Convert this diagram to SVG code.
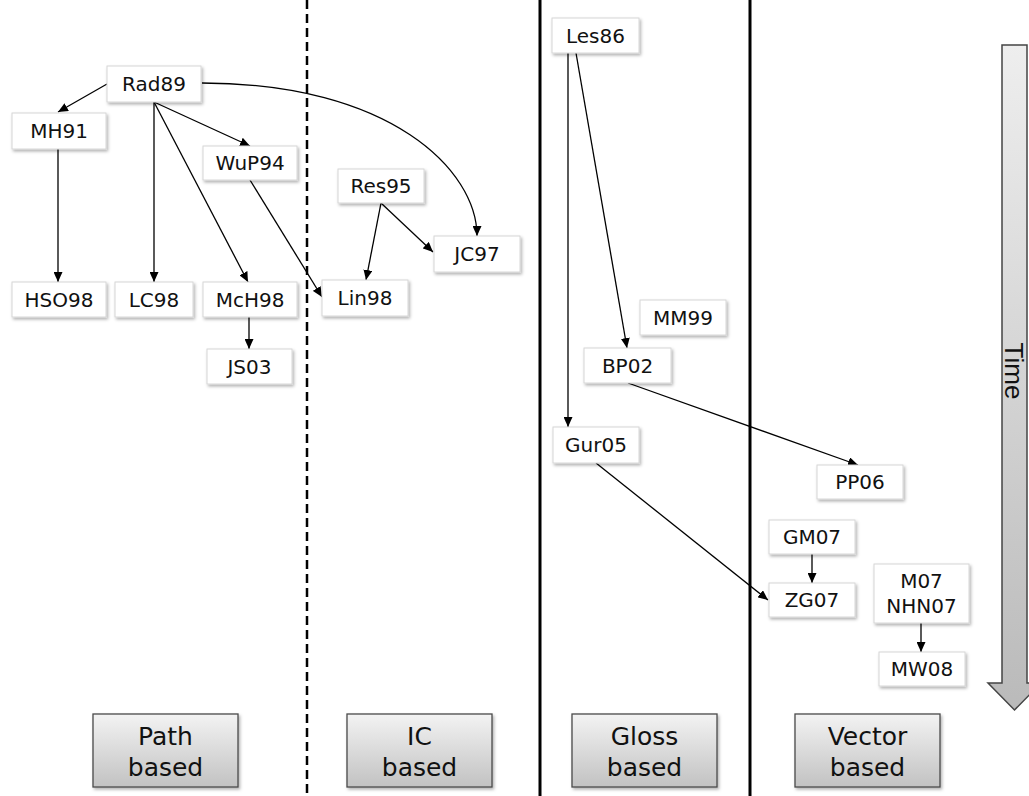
<svg xmlns="http://www.w3.org/2000/svg" width="1029" height="796" viewBox="0 0 1029 796">
  <defs>
    <style>
      .node rect { fill: #ffffff; stroke: #d6d6d6; stroke-width: 1; filter: url(#shadow); }
      .node text { font-family: "DejaVu Sans", Verdana, sans-serif; font-size: 20px; fill: #111; text-anchor: middle; }
      .cat rect { fill: url(#catFill); stroke: #4a4a4a; stroke-width: 1.3; filter: url(#shadow); }
      .cat text { font-family: "DejaVu Sans", Verdana, sans-serif; font-size: 25px; fill: #111; text-anchor: middle; }
      .edges path { fill: none; stroke: #000; stroke-width: 1.3; marker-end: url(#arrow); }
      .divider { stroke: #000; stroke-width: 3; }
      .divider.dashed { stroke-width: 2.5; stroke-dasharray: 9 5; }
    </style>
    <filter id="shadow" x="-20%" y="-20%" width="140%" height="150%">
      <feDropShadow dx="1.5" dy="2" stdDeviation="1.5" flood-color="#000" flood-opacity="0.3"/>
    </filter>
    <linearGradient id="catFill" x1="0" y1="0" x2="0" y2="1">
      <stop offset="0" stop-color="#f3f3f3"/>
      <stop offset="1" stop-color="#c2c2c2"/>
    </linearGradient>
    <linearGradient id="timeFill" x1="0" y1="0" x2="0" y2="1">
      <stop offset="0" stop-color="#eeeeee"/>
      <stop offset="1" stop-color="#bababa"/>
    </linearGradient>
    <marker id="arrow" markerUnits="userSpaceOnUse" markerWidth="11" markerHeight="9" refX="10" refY="4.5" orient="auto">
      <path d="M0,0 L10,4.5 L0,9 Z" fill="#000"/>
    </marker>
  </defs>

  <rect x="0" y="0" width="1029" height="796" fill="#ffffff"/>

  <!-- column dividers -->
  <line class="divider dashed" x1="307" y1="0" x2="307" y2="796"/>
  <line class="divider" x1="540" y1="0" x2="540" y2="796"/>
  <line class="divider" x1="750" y1="0" x2="750" y2="796"/>

  <!-- time axis -->
  <g id="time">
    <path d="M1002,45 L1027,45 L1027,683 L1041,683 L1014.5,710 L988,683 L1002,683 Z" fill="url(#timeFill)" stroke="#444" stroke-width="1.5"/>
    <text transform="translate(1005,371) rotate(90)" text-anchor="middle" font-family="'Liberation Sans', Arial, sans-serif" font-size="26" fill="#111">Time</text>
  </g>

  <!-- connectors -->
  <g id="edges" class="edges">
    <path d="M107,84 L58,112"/>
    <path d="M154,102 L250,146"/>
    <path d="M154,102 L154,282"/>
    <path d="M154,102 L248,282"/>
    <path d="M58,149 L58,282"/>
    <path d="M202,83 C390,83 477,170 477,236"/>
    <path d="M250,180 L322,297"/>
    <path d="M381,203 L366,280"/>
    <path d="M381,203 L433,252"/>
    <path d="M249,317 L249,349"/>
    <path d="M568,53 L568,427"/>
    <path d="M576,53 L627,348"/>
    <path d="M628,383 L858,465"/>
    <path d="M596,463 L768,600"/>
    <path d="M812,554 L812,583"/>
    <path d="M921,623 L921,652"/>
  </g>

  <!-- path based -->
  <g id="Rad89" class="node"><rect x="107" y="66" width="94" height="36"/><text x="154" y="91">Rad89</text></g>
  <g id="MH91" class="node"><rect x="12" y="113" width="94" height="36"/><text x="59" y="138">MH91</text></g>
  <g id="WuP94" class="node"><rect x="203" y="146" width="94" height="34"/><text x="250" y="170">WuP94</text></g>
  <g id="HSO98" class="node"><rect x="12" y="282" width="94" height="35"/><text x="59" y="306.5">HSO98</text></g>
  <g id="LC98" class="node"><rect x="115" y="282" width="78" height="35"/><text x="154" y="306.5">LC98</text></g>
  <g id="McH98" class="node"><rect x="203" y="282" width="94" height="35"/><text x="250" y="306.5">McH98</text></g>
  <g id="JS03" class="node"><rect x="207" y="349" width="85" height="35"/><text x="249.5" y="373.5">JS03</text></g>

  <!-- IC based -->
  <g id="Res95" class="node"><rect x="338" y="169" width="86" height="34"/><text x="381" y="193">Res95</text></g>
  <g id="JC97" class="node"><rect x="434" y="236" width="86" height="36"/><text x="477" y="261">JC97</text></g>
  <g id="Lin98" class="node"><rect x="322" y="280" width="86" height="36"/><text x="365" y="305">Lin98</text></g>

  <!-- gloss based -->
  <g id="Les86" class="node"><rect x="552" y="18" width="87" height="35"/><text x="595.5" y="42.5">Les86</text></g>
  <g id="MM99" class="node"><rect x="640" y="300" width="86" height="35"/><text x="683" y="324.5">MM99</text></g>
  <g id="BP02" class="node"><rect x="584" y="348" width="87" height="35"/><text x="627.5" y="372.5">BP02</text></g>
  <g id="Gur05" class="node"><rect x="553" y="427" width="86" height="36"/><text x="596" y="452">Gur05</text></g>

  <!-- vector based -->
  <g id="PP06" class="node"><rect x="817" y="465" width="86" height="34"/><text x="860" y="489">PP06</text></g>
  <g id="GM07" class="node"><rect x="769" y="520" width="86" height="34"/><text x="812" y="544">GM07</text></g>
  <g id="ZG07" class="node"><rect x="769" y="583" width="86" height="34"/><text x="812" y="607">ZG07</text></g>
  <g id="M07_NHN07" class="node"><rect x="874" y="564" width="95" height="59"/><text x="921.5" y="588">M07</text><text x="921.5" y="613">NHN07</text></g>
  <g id="MW08" class="node"><rect x="879" y="652" width="86" height="34"/><text x="922" y="676">MW08</text></g>

  <!-- category labels -->
  <g id="cat-path" class="cat"><rect x="93" y="714" width="145" height="73"/><text x="165.5" y="745">Path</text><text x="165.5" y="776">based</text></g>
  <g id="cat-ic" class="cat"><rect x="347" y="714" width="145" height="73"/><text x="419.5" y="745">IC</text><text x="419.5" y="776">based</text></g>
  <g id="cat-gloss" class="cat"><rect x="572" y="714" width="145" height="73"/><text x="644.5" y="745">Gloss</text><text x="644.5" y="776">based</text></g>
  <g id="cat-vector" class="cat"><rect x="795" y="714" width="145" height="73"/><text x="867.5" y="745">Vector</text><text x="867.5" y="776">based</text></g>
</svg>
